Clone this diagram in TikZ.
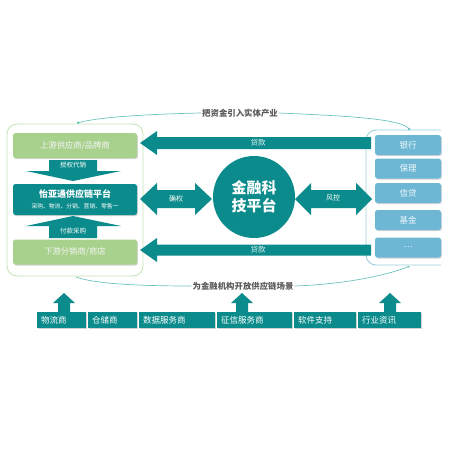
\documentclass[tikz,border=0pt]{standalone}
\usepackage{fontspec}
\setmainfont{Noto Sans CJK SC}
\usetikzlibrary{arrows.meta,shadows}
\definecolor{tealdark}{HTML}{0B8B8B}
\definecolor{leafgreen}{HTML}{A9D18E}
\definecolor{skyblue}{HTML}{6DB7D4}
\definecolor{greenline}{HTML}{C9E3B6}
\definecolor{blueline}{HTML}{9CCFDA}
\definecolor{curveline}{HTML}{6CC3BE}
\definecolor{labelgray}{HTML}{595959}

\begin{document}
\begin{tikzpicture}[x=1pt,y=-1pt,>=Stealth,
  lightshadow/.style={drop shadow={shadow xshift=0.9pt,shadow yshift=-1.1pt,opacity=.35}},
  gbox/.style={fill=leafgreen,rounded corners=2.5pt,lightshadow,text=white!92!gray,
    minimum width=124pt,minimum height=25pt,font=\fontsize{8.3}{10}\selectfont},
  pbox/.style={fill=tealdark,rounded corners=2.5pt,lightshadow,text=white,align=center,
    minimum width=124pt,minimum height=31pt,inner sep=1pt},
  rbox/.style={fill=skyblue,rounded corners=2.5pt,lightshadow,text=white!92!skyblue,
    minimum width=66pt,minimum height=20pt,font=\fontsize{8.5}{10}\selectfont},
  sbox/.style={fill=tealdark,lightshadow,text=white,text width=#1,align=left,
    inner xsep=4pt,inner ysep=0pt,minimum height=16pt,anchor=west,
    font=\fontsize{8.5}{10}\selectfont},
  alabel/.style={text=white,font=\fontsize{6.5}{8}\selectfont,inner sep=0pt},
  loanlabel/.style={text=white!88!tealdark,font=\fontsize{7.5}{9}\selectfont,inner sep=0pt},
  curvetext/.style={text=labelgray,font=\bfseries\fontsize{8.4}{10}\selectfont,inner sep=1pt},
  flow/.style={draw=curveline,line width=0.7pt},
  pics/uparrow/.style={code={
    \fill[tealdark] (-6,0) -- (-6,-9) -- (-11,-9) -- (0,-19) -- (11,-9) -- (6,-9) -- (6,0) -- cycle;}}]
  \useasboundingbox (0,0) rectangle (450,450);

  % left container: supply chain
  \draw[greenline,line width=0.9pt,rounded corners=10pt] (7,124) rectangle (143,276);
  \node[gbox] (supplier) at (75,145.5) {上游供应商/品牌商};
  \node[pbox] (platform) at (75,199.5)
    {{\bfseries\fontsize{9}{11}\selectfont 怡亚通供应链平台}\\[-1pt]{\fontsize{5.8}{7}\selectfont 采购、物流、分销、营销、零售一}};
  \node[gbox] (dealer) at (75,252) {下游分销商/商店};

  \fill[tealdark] (49,160) -- (97,160) -- (97,171) -- (121,171) -- (73,181) -- (26,171) -- (49,171) -- cycle;
  \node[alabel] (consign) at (73,165) {授权代销};
  \fill[tealdark] (49,238) -- (97,238) -- (97,226) -- (121,226) -- (73,216) -- (26,226) -- (49,226) -- cycle;
  \node[alabel] (purchase) at (73,231) {付款采购};

  % right container: financial institutions
  \draw[blueline,line width=0.9pt,rounded corners=10pt] (441,130) -- (366,130) -- (366,265) -- (441,265);
  \node[rbox] (bank)    at (408,145)   {银行};
  \node[rbox] (factor)  at (408,168.5) {保理};
  \node[rbox] (credit)  at (408,193)   {信贷};
  \node[rbox] (fund)    at (408,220)   {基金};
  \node[rbox] (more)    at (408,247.5) {…};

  % loans
  \fill[tealdark] (140,143) -- (157,131) -- (157,137) -- (371,137) -- (371,149) -- (157,149) -- (157,155) -- cycle;
  \node[loanlabel] (loanup) at (258,143) {贷款};
  \fill[tealdark] (140,250) -- (157,238) -- (157,244.5) -- (371,244.5) -- (371,255.5) -- (157,255.5) -- (157,262) -- cycle;
  \node[loanlabel] (loandown) at (258,250) {贷款};

  % centre
  \node[circle,fill=tealdark,minimum size=82pt,inner sep=0pt,text=white,align=center,
    font=\bfseries\fontsize{15}{18}\selectfont] (fintech) at (254,197) {金融科\\技平台};

  \fill[tealdark] (140,199) -- (157,183) -- (157,190) -- (195,190) -- (195,183) -- (212,199)
    -- (195,215) -- (195,208) -- (157,208) -- (157,215) -- cycle;
  \node[alabel,font=\fontsize{7}{8}\selectfont] (confirm) at (176,199) {确权};
  \fill[tealdark] (295,199) -- (311,183) -- (311,190) -- (356,190) -- (356,183) -- (372,199)
    -- (356,215) -- (356,208) -- (311,208) -- (311,215) -- cycle;
  \node[alabel,font=\fontsize{7}{8}\selectfont] (risk) at (333,198) {风控};

  % captions with curves
  \node[curvetext] (capin) at (240,113) {把资金引入实体产业};
  \coordinate (capL) at (77,123);
  \coordinate (capR) at (410,130);
  \draw[flow,{Circle[length=2.6pt]}-] (capL) .. controls (100,117) and (150,114) .. (capin.west);
  \draw[flow,-{Circle[length=2.6pt]}] (capin.east) .. controls (350,116) and (400,119) .. (capR);

  \node[curvetext] (scene) at (243,286) {为金融机构开放供应链场景};
  \coordinate (sceneL) at (76,277);
  \coordinate (sceneR) at (410,266);
  \draw[flow] (sceneL) .. controls (92,283) and (130,286) .. (scene.west);
  \draw[flow,-{Stealth[length=3pt]}] (scene.east) .. controls (350,284) and (390,274) .. (sceneR);

  % service providers
  \node[sbox=41pt] (logistics) at (37,320)  {物流商};
  \node[sbox=41pt] (storage)   at (88,320)  {仓储商};
  \node[sbox=68pt] (data)      at (139,320) {数据服务商};
  \node[sbox=67pt] (rating)    at (217,320) {征信服务商};
  \node[sbox=54pt] (software)  at (294,320) {软件支持};
  \node[sbox=55pt] (news)      at (358,320) {行业资讯};
  \pic at (64,312)  {uparrow};
  \pic at (242,312) {uparrow};
  \pic at (390,312) {uparrow};
\end{tikzpicture}
\end{document}
